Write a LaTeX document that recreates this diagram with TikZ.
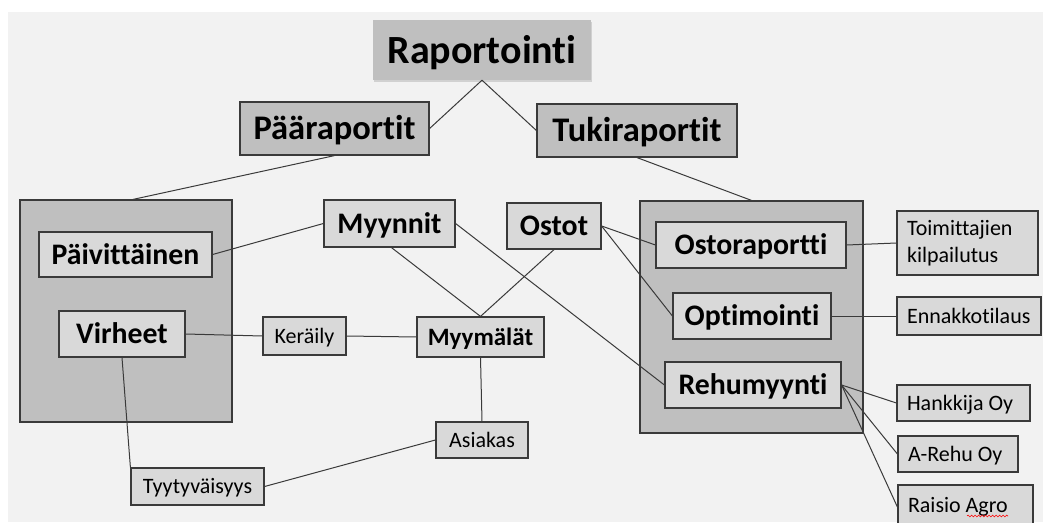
\documentclass[tikz,border=0pt]{standalone}
\usepackage{fontspec}
\setmainfont{Carlito}[Ligatures=NoCommon]
\usetikzlibrary{shadows,decorations.pathmorphing}

\definecolor{bggray}{HTML}{F2F2F2}
\definecolor{darkgray}{HTML}{BFBFBF}
\definecolor{lightgray}{HTML}{D9D9D9}
\definecolor{edgegray}{HTML}{3A3A3A}

\tikzset{
  box/.style={draw=edgegray, line width=1.2pt, fill=lightgray, inner sep=0pt},
  groupbox/.style={box, fill=darkgray},
  titlefont/.style={font=\fontsize{40}{44}\selectfont\bfseries, text height=33pt, text depth=7pt},
  levelfont/.style={font=\fontsize{34.5}{38}\selectfont\bfseries, text height=28.6pt, text depth=5.9pt},
  bigfont/.style={font=\fontsize{29.8}{32}\selectfont\bfseries, text height=24.7pt, text depth=5.1pt},
  midfont/.style={font=\fontsize{25}{28}\selectfont\bfseries, text height=20.8pt, text depth=4.2pt},
  smallfont/.style={font=\fontsize{22}{25}\selectfont, text height=18.3pt, text depth=3.7pt},
  sidebox/.style={box, smallfont, align=flush left, inner xsep=10pt},
  link/.style={draw=edgegray, line width=1pt}
}

\begin{document}
\begin{tikzpicture}[x=1pt, y=-1pt]

\useasboundingbox (0, 0) rectangle (1043, 522);
\fill[white] (0, 0) rectangle (1043, 522);
\fill[bggray] (8, 12) rectangle (1043, 522);

% top levels
\node(raportointi)[fill=darkgray, minimum width=218pt, minimum height=60pt, titlefont,
  drop shadow={shadow xshift=1pt, shadow yshift=-2pt, fill=black!30}] at (482, 50) {Raportointi};
\node(paaraportit)[groupbox, levelfont, minimum width=189pt, minimum height=53pt] at (334.5, 128.5) {Pääraportit};
\node(tukiraportit)[groupbox, levelfont, minimum width=200pt, minimum height=53pt] at (637, 130.5) {Tukiraportit};

% group boxes
\node(paagroup)[groupbox, minimum width=212pt, minimum height=222pt] at (126, 311) {};
\node(tukigroup)[groupbox, minimum width=223pt, minimum height=232pt] at (751.5, 317) {};

% left side
\node(paivittainen)[box, bigfont, minimum width=173pt, minimum height=45pt] at (125.5, 254.5) {Päivittäinen\hspace{5pt}};
\node(virheet)[box, bigfont, minimum width=126pt, minimum height=46pt] at (122, 334) {Virheet\hspace{20pt}};
\node(myynnit)[box, bigfont, minimum width=131pt, minimum height=47pt] at (389.5, 223.5) {Myynnit};
\node(ostot)[box, bigfont, minimum width=94pt, minimum height=46pt] at (554, 226) {Ostot};
\node(keraily)[box, smallfont, minimum width=83pt, minimum height=38pt] at (304.5, 336) {Keräily};
\node(myymalat)[box, midfont, minimum width=127pt, minimum height=40pt] at (480.5, 337) {Myymälät};
\node(asiakas)[box, smallfont, minimum width=92pt, minimum height=36pt] at (482, 440) {Asiakas};
\node(tyytyvaisyys)[box, smallfont, minimum width=133pt, minimum height=37pt] at (197.5, 486.5) {Tyytyväisyys};

% right side
\node(ostoraportti)[box, bigfont, minimum width=190pt, minimum height=46pt] at (751, 245) {Ostoraportti\hspace{24pt}};
\node(optimointi)[box, bigfont, minimum width=158pt, minimum height=46pt] at (752, 316) {Optimointi};
\node(rehumyynti)[box, bigfont, minimum width=176pt, minimum height=46pt] at (753, 385) {Rehumyynti};
\node(toimittajien)[box, align=flush left, inner xsep=10pt, text width=121pt, minimum height=64pt,
  font=\fontsize{22}{27}\selectfont] at (967.5, 243) {Toimittajien\\kilpailutus};
\node(ennakko)[sidebox, text width=124pt, minimum height=38pt] at (969, 316) {Ennakkotilaus};
\node(hankkija)[sidebox, text width=113pt, minimum height=36pt] at (963.5, 403) {Hankkija Oy};
\node(arehu)[sidebox, text width=100pt, minimum height=36pt] at (958, 454) {A-Rehu Oy};
\node(raisio)[sidebox, text width=115pt, minimum height=40pt] at (965.5, 505) {Raisio Agro};
\draw[red, line width=0.6pt, decorate,
  decoration={snake, amplitude=0.9pt, segment length=3.5pt}] (967, 516) -- (1008, 516);

% links
\draw[link] (raportointi.south)--(paaraportit.east);
\draw[link] (raportointi.south)--(tukiraportit.west);
\draw[link] (paaraportit.south)--([xshift=7pt]paagroup.north);
\draw[link] (tukiraportit.south)--(tukigroup.north);

\draw[link] (paivittainen.east)--(myynnit.west);
\draw[link] ([xshift=2pt]myynnit.south)--(myymalat.north);
\draw[link] (myynnit.east)--(rehumyynti.west);
\draw[link] (ostot.south)--(myymalat.north);
\draw[link] (ostot.east)--(ostoraportti.west);
\draw[link] (ostot.east)--(optimointi.west);
\draw[link] (virheet.east)--(keraily.west);
\draw[link] (keraily.east)--(myymalat.west);
\draw[link] (myymalat.south)--(asiakas.north);
\draw[link] (virheet.south)--(tyytyvaisyys.north west);
\draw[link] (tyytyvaisyys.east)--(asiakas.west);

\draw[link] (ostoraportti.east)--(toimittajien.west);
\draw[link] (optimointi.east)--(ennakko.west);
\draw[link] (rehumyynti.east)--(hankkija.west);
\draw[link] (rehumyynti.east)--(arehu.west);
\draw[link] (rehumyynti.east)--([yshift=-2pt]raisio.west);

\end{tikzpicture}
\end{document}
